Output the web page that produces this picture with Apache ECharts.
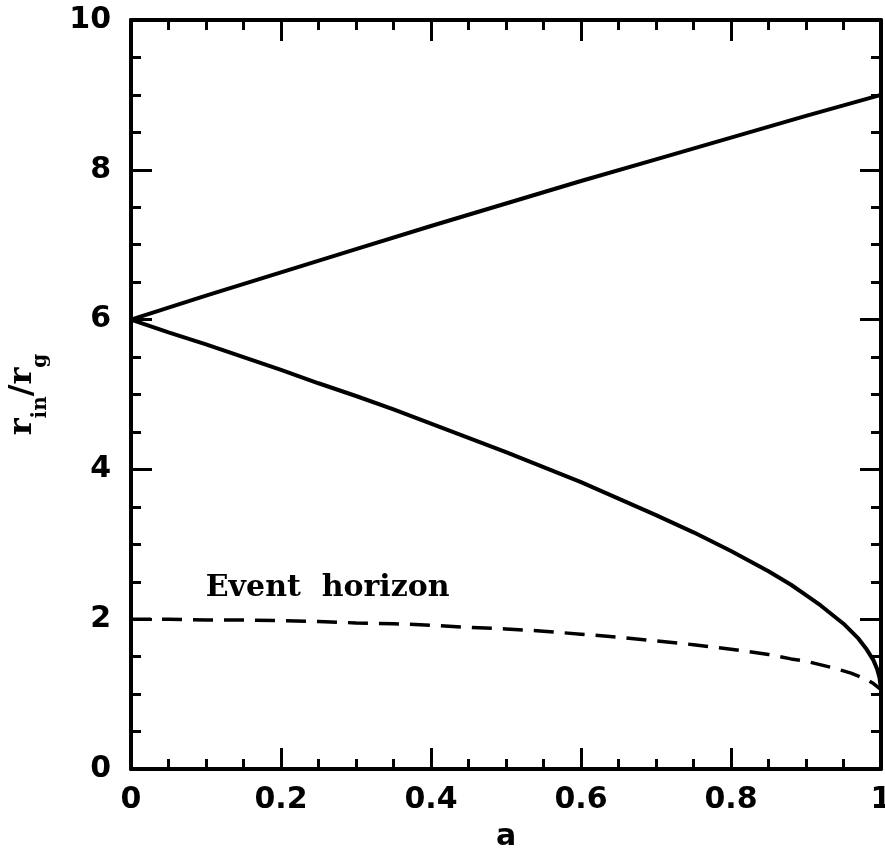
<!DOCTYPE html>
<html>
<head>
<meta charset="utf-8">
<script src="https://cdn.jsdelivr.net/npm/echarts@6/dist/echarts.min.js"></script>
<style>
  html, body { margin: 0; padding: 0; background: #fff; }
  #chart { width: 885px; height: 850px; }
</style>
</head>
<body>
<div id="chart"></div>
<script>
// spin values (a) and radii
const retroSpin = [0, 0.1, 0.2, 0.3, 0.4, 0.5, 0.6, 0.7, 0.8, 0.9, 1];
const retrograde = [6, 6.32, 6.63, 6.94, 7.25, 7.55, 7.85, 8.14, 8.43, 8.72, 9];
const proSpin = [0, 0.05, 0.1, 0.15, 0.2, 0.25, 0.3, 0.35, 0.4, 0.45, 0.5, 0.55, 0.6, 0.65, 0.7, 0.75, 0.8, 0.85, 0.88, 0.9, 0.92, 0.94, 0.95, 0.96, 0.97, 0.98, 0.985, 0.99, 0.995, 0.998, 1];
const prograde = [6, 5.83, 5.67, 5.50, 5.33, 5.15, 4.98, 4.80, 4.61, 4.42, 4.23, 4.03, 3.83, 3.61, 3.39, 3.16, 2.91, 2.64, 2.46, 2.32, 2.18, 2.02, 1.94, 1.84, 1.74, 1.61, 1.53, 1.45, 1.33, 1.22, 1.05];
const horizonSpin = [0, 0.05, 0.1, 0.15, 0.2, 0.25, 0.3, 0.35, 0.4, 0.45, 0.5, 0.55, 0.6, 0.65, 0.7, 0.75, 0.8, 0.85, 0.88, 0.9, 0.92, 0.94, 0.95, 0.96, 0.97, 0.98, 0.99, 1];
const horizon = [2, 2.0, 1.99, 1.99, 1.98, 1.97, 1.95, 1.94, 1.92, 1.89, 1.87, 1.84, 1.80, 1.76, 1.71, 1.66, 1.60, 1.53, 1.47, 1.44, 1.39, 1.34, 1.31, 1.28, 1.24, 1.20, 1.14, 1.06];
const xTicks = [0, 0.2, 0.4, 0.6, 0.8, 1];
const yTicks = [0, 2, 4, 6, 8, 10];
const labelSpot = [[0.099, 2.42]];

const pairs = (xs, ys) => xs.map((a, i) => [a, ys[i]]);

const chart = echarts.init(document.getElementById("chart"));

const font = "DejaVu Sans";
const serif = "DejaVu Serif";
const ink = "#000";

const tickStyle = {
  axisLine: { show: true, onZero: false, lineStyle: { color: ink, width: 4 } },
  axisTick: { show: true, inside: true, length: 21, lineStyle: { color: ink, width: 3 } },
  minorTick: { show: true, splitNumber: 4, length: 10, lineStyle: { color: ink, width: 3 } },
  splitLine: { show: false },
  minorSplitLine: { show: false },
};

const labelFmt = (v) => String(+v.toFixed(1));

chart.setOption({
  animation: false,
  backgroundColor: "#fff",
  grid: { left: 131, right: 4, top: 20, bottom: 81, containLabel: false, outerBoundsMode: "none" },
  xAxis: [
    {
      type: "value", min: 0, max: 1, interval: 0.2, position: "bottom",
      name: "a", nameLocation: "middle", nameGap: 53,
      nameTextStyle: { fontFamily: font, fontWeight: "bold", fontSize: 30, color: ink },
      axisLabel: {
        margin: 16, fontFamily: font, fontWeight: "bold", fontSize: 30, color: ink,
        formatter: labelFmt, showMaxLabel: true, showMinLabel: true,
      },
      ...tickStyle,
    },
    {
      type: "value", min: 0, max: 1, interval: 0.2, position: "top",
      axisLabel: { show: false },
      ...tickStyle,
    },
  ],
  yAxis: [
    {
      type: "value", min: 0, max: 10, interval: 2, position: "left",
      name: "{m|r}{s|in}{m|/r}{s|g}", nameLocation: "middle", nameGap: 80, nameRotate: 90,
      nameTextStyle: {
        fontFamily: serif, fontWeight: "bold", color: ink,
        rich: {
          m: { fontFamily: serif, fontWeight: "bold", fontSize: 32, lineHeight: 44, color: ink, verticalAlign: "top" },
          s: { fontFamily: serif, fontWeight: "bold", fontSize: 20, lineHeight: 44, color: ink, verticalAlign: "bottom" },
        },
      },
      axisLabel: { margin: 20, fontFamily: font, fontWeight: "bold", fontSize: 30, color: ink },
      ...tickStyle,
    },
    {
      type: "value", min: 0, max: 10, interval: 2, position: "right",
      axisLabel: { show: false },
      ...tickStyle,
    },
  ],
  series: [
    {
      name: "retrograde", type: "line", data: pairs(retroSpin, retrograde), showSymbol: false,
      lineStyle: { color: ink, width: 4 },
    },
    {
      name: "prograde", type: "line", data: pairs(proSpin, prograde), showSymbol: false,
      lineStyle: { color: ink, width: 4 },
    },
    {
      name: "horizon", type: "line", data: pairs(horizonSpin, horizon), showSymbol: false,
      lineStyle: { color: ink, width: 3.5, type: [20, 11] },
    },
    {
      name: "label", type: "scatter", data: labelSpot, symbolSize: 1,
      itemStyle: { color: "rgba(0,0,0,0)" },
      label: {
        show: true, position: "right", distance: 0, formatter: "Event  horizon",
        fontFamily: serif, fontWeight: "bold", fontSize: 30, color: ink,
        opacity: 1, textBorderWidth: 0,
      },
      silent: true,
    },
  ],
});
</script>
</body>
</html>
